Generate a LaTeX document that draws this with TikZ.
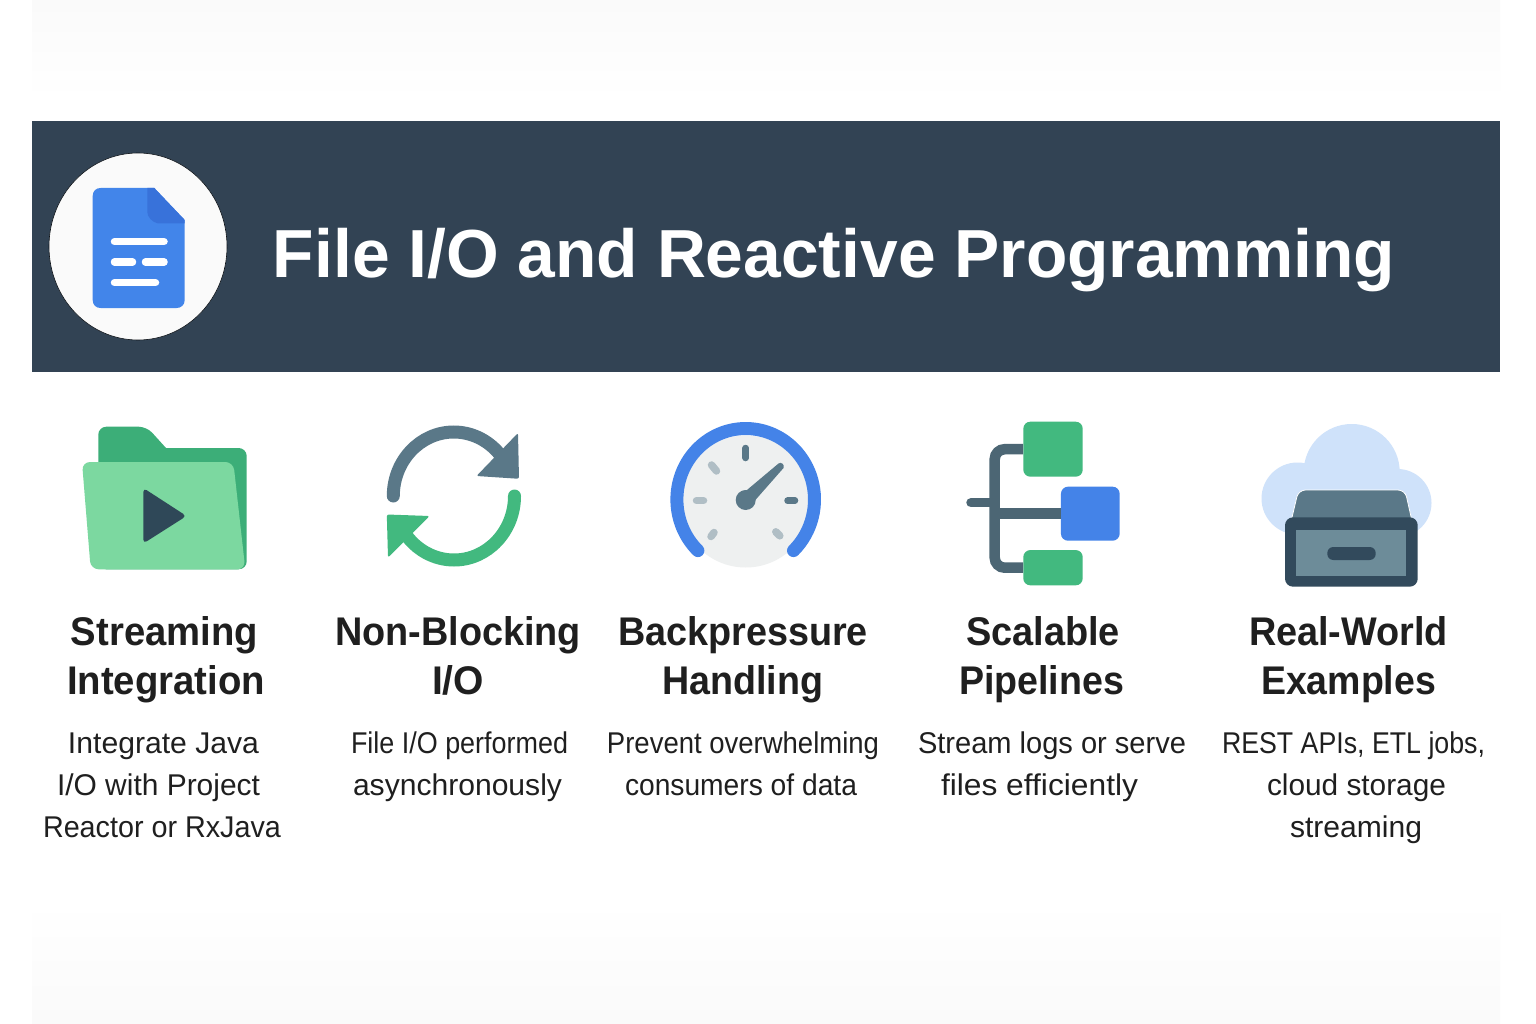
\documentclass[tikz,border=0pt]{standalone}
\usepackage{fontspec}
\usepackage{graphicx}
\setmainfont{Liberation Sans}
\usetikzlibrary{calc}
\definecolor{navy}{HTML}{324354}
\definecolor{docblue}{HTML}{4285EA}
\definecolor{docfold}{HTML}{3872DA}
\definecolor{ringblue}{HTML}{4483E8}
\definecolor{darkgreen}{HTML}{3CAE78}
\definecolor{lightgreen}{HTML}{7CD8A0}
\definecolor{midgreen}{HTML}{42B97F}
\definecolor{slate}{HTML}{5A7888}
\definecolor{deepslate}{HTML}{2F4858}
\definecolor{pale}{HTML}{B0BEC5}
\definecolor{face}{HTML}{EEF0F0}
\definecolor{cloud}{HTML}{CFE2FA}
\definecolor{drawer}{HTML}{324A5C}
\definecolor{tray}{HTML}{6D8C99}
\tikzset{
  docline/.style={white,line width=7.5pt,line cap=round},
  tick/.style={line width=6.5pt,line cap=round},
  paletick/.style={pale,line width=7.5pt,line cap=round},
  ring/.style={line width=13pt,line cap=round},
  branch/.style={slate!85!black,line width=10.5pt,line cap=round},
  treebox/.style={rectangle,rounded corners=7pt,inner sep=0pt,draw=none},
  label/.style={inner sep=0pt,anchor=base,text=black!88},
  whitelabel/.style={inner sep=0pt,anchor=base,text=white}
}
% name, left, right, baseline, font, text
\newcommand{\fitted}[6]{%
  \node[label] (#1) at ({(#2+#3)/2},#4) {\resizebox{\dimexpr #3pt-#2pt\relax}{\height}{#5#6}};}
\newcommand{\headfit}[5]{\fitted{#1}{#2}{#3}{#4}{\fontsize{40}{48}\selectfont\bfseries}{#5}}
\newcommand{\bodyfit}[5]{\fitted{#1}{#2}{#3}{#4}{\fontsize{30}{36}\selectfont}{#5}}
\begin{document}
\begin{tikzpicture}[x=1pt,y=-1pt]
\useasboundingbox (0,0) rectangle (1536,1024);
\fill[white] (0,0) rectangle (1536,1024);
% faint page tint
\shade[top color=black!2,bottom color=white] (32,0) rectangle (1500,100);
\shade[top color=white,bottom color=black!2] (32,900) rectangle (1500,1024);
% header
\fill[navy] (32,121) rectangle (1500,372);
\fill[white!98!black,draw=black!70!navy,line width=.6pt] (138,246.5) ellipse [x radius=89,y radius=93.5];
\fill[docblue] (100.7,188) -- (154.3,188) -- (184.7,220) -- (184.7,300) .. controls (184.7,305) and (181,308) .. (176.7,308) -- (100.7,308) .. controls (96,308) and (92.7,305) .. (92.7,300) -- (92.7,196) .. controls (92.7,191) and (96,188) .. (100.7,188) -- cycle;
\fill[docfold] (147.3,188) -- (154.3,188) -- (184.7,220) -- (184.7,223.5) -- (158,223.5) .. controls (152,222) and (147.3,217) .. (147.3,212) -- cycle;
\draw[docline] (114.5,241.7) -- (164,241.7);
\draw[docline] (114.5,262) -- (132.5,262);
\draw[docline] (145.5,262) -- (164,262);
\draw[docline] (114.5,282.7) -- (155.5,282.7);
\node[whitelabel] (title) at (834,278) {\resizebox{1122pt}{\height}{\fontsize{68}{80}\selectfont\bfseries File I/O and Reactive Programming}};
% folder
\fill[darkgreen,rounded corners=8pt] (98.3,569.3) -- (98.3,426.7) -- (146.7,426.7) [sharp corners] -- (166,448) [rounded corners=8pt] -- (246.7,448) -- (246.7,569.3) -- cycle;
\fill[lightgreen,rounded corners=8pt] (82,462) -- (233.3,462) -- (245.3,569.3) -- (90.7,569.3) -- cycle;
\fill[deepslate,rounded corners=4pt] (143.3,488) -- (186.5,516) -- (143.3,543.5) -- cycle;
% sync arrows
\draw[slate,ring] (393.3,496) arc [start angle=180,end angle=318,x radius=60.5,y radius=64];
\fill[slate,rounded corners=2pt] (518,433) -- (519,478.8) -- (476.5,476) -- cycle;
\draw[midgreen,ring] (514.5,496) arc [start angle=0,end angle=145,x radius=60.5,y radius=64];
\fill[midgreen,rounded corners=2pt] (386.8,514.5) -- (429.5,516) -- (388,557.5) -- cycle;
% gauge
\fill[face] (745.7,501.5) circle [radius=66];
\draw[ringblue,line width=13pt,line cap=round] (697.9,550.6) arc [start angle=134,end angle=406,x radius=68.8,y radius=71];
\draw[slate,tick] (745.7,448) -- (745.7,458);
\draw[slate,tick] (787.5,500.7) -- (795,500.7);
\draw[paletick] (696.5,500.7) -- (703.5,500.7);
\draw[paletick] (711.5,465) -- (716.5,471);
\draw[paletick] (714,532.5) -- (711,536.5);
\draw[paletick] (775.8,531.8) -- (779.8,535.8);
\fill[slate] (745.7,500) circle [radius=10];
\fill[slate] (741,495) -- (778.5,463.5) .. controls (781,461.5) and (785,464.5) .. (783.5,468) -- (751,505) -- cycle;
% pipelines
\node[treebox,fill=midgreen,minimum width=59.4pt,minimum height=55pt] (treetop) at (1053,449.2) {};
\node[treebox,fill=ringblue,minimum width=58.7pt,minimum height=54pt] (treemid) at (1090.3,513.7) {};
\node[treebox,fill=midgreen,minimum width=59.4pt,minimum height=35.3pt] (treebot) at (1053,567.7) {};
\coordinate (trunktop) at (994.7,449.2);
\coordinate (trunkbot) at (994.7,567.7);
\coordinate (stub) at (971,502.7);
\coordinate (stubend) at (994.7,502.7);
\draw[branch,line cap=butt,rounded corners=10pt] (treetop.west) -- (trunktop) -- (trunkbot) -- (treebot.west);
\draw[branch,line cap=butt,line width=11pt] (trunktop |- treemid.west) -- (treemid.west);
\draw[branch,line width=9.5pt] (stub) -- (stubend);
% cloud storage
\fill[cloud] (1351.7,472) circle [radius=48];
\fill[cloud] (1297.5,498.5) circle [radius=36];
\fill[cloud] (1397.5,503) circle [radius=34];
\fill[cloud] (1300,490) rectangle (1400,530);
\fill[slate,draw=white,line width=.8pt,rounded corners=7pt] (1289,530) -- (1298.5,490) -- (1405,490) -- (1414,530) -- cycle;
\fill[drawer,rounded corners=8pt] (1285,517.3) rectangle (1417.7,586.7);
\fill[tray] (1296,530) rectangle (1406,575.7);
\fill[drawer,rounded corners=6pt] (1327.3,547) rectangle (1375.7,560);
% labels
\headfit{headA}{71}{258}{645.5}{Streaming}
\headfit{headB}{67}{265}{694}{Integration}
\headfit{headC}{335}{581}{645.5}{Non-Blocking}
\headfit{headD}{432}{484}{694}{I/O}
\headfit{headE}{618}{868}{645.5}{Backpressure}
\headfit{headF}{662}{823}{694}{Handling}
\headfit{headG}{966}{1120}{645.5}{Scalable}
\headfit{headH}{959}{1124}{694}{Pipelines}
\headfit{headI}{1249}{1448}{645.5}{Real-World}
\headfit{headJ}{1261}{1436}{694}{Examples}
\bodyfit{bodyA}{68}{259}{753}{Integrate Java}
\bodyfit{bodyB}{57}{260}{795}{I/O with Project}
\bodyfit{bodyC}{43}{281}{837}{Reactor or RxJava}
\bodyfit{bodyD}{351}{568}{753}{File I/O performed}
\bodyfit{bodyE}{353}{562}{795}{asynchronously}
\bodyfit{bodyF}{607}{879}{753}{Prevent overwhelming}
\bodyfit{bodyG}{625}{857}{795}{consumers of data}
\bodyfit{bodyH}{918}{1186}{753}{Stream logs or serve}
\bodyfit{bodyI}{941}{1138}{795}{files efficiently}
\bodyfit{bodyJ}{1222}{1485}{753}{REST APIs, ETL jobs,}
\bodyfit{bodyK}{1267}{1446}{795}{cloud storage}
\bodyfit{bodyL}{1290}{1422}{837}{streaming}
\end{tikzpicture}
\end{document}
